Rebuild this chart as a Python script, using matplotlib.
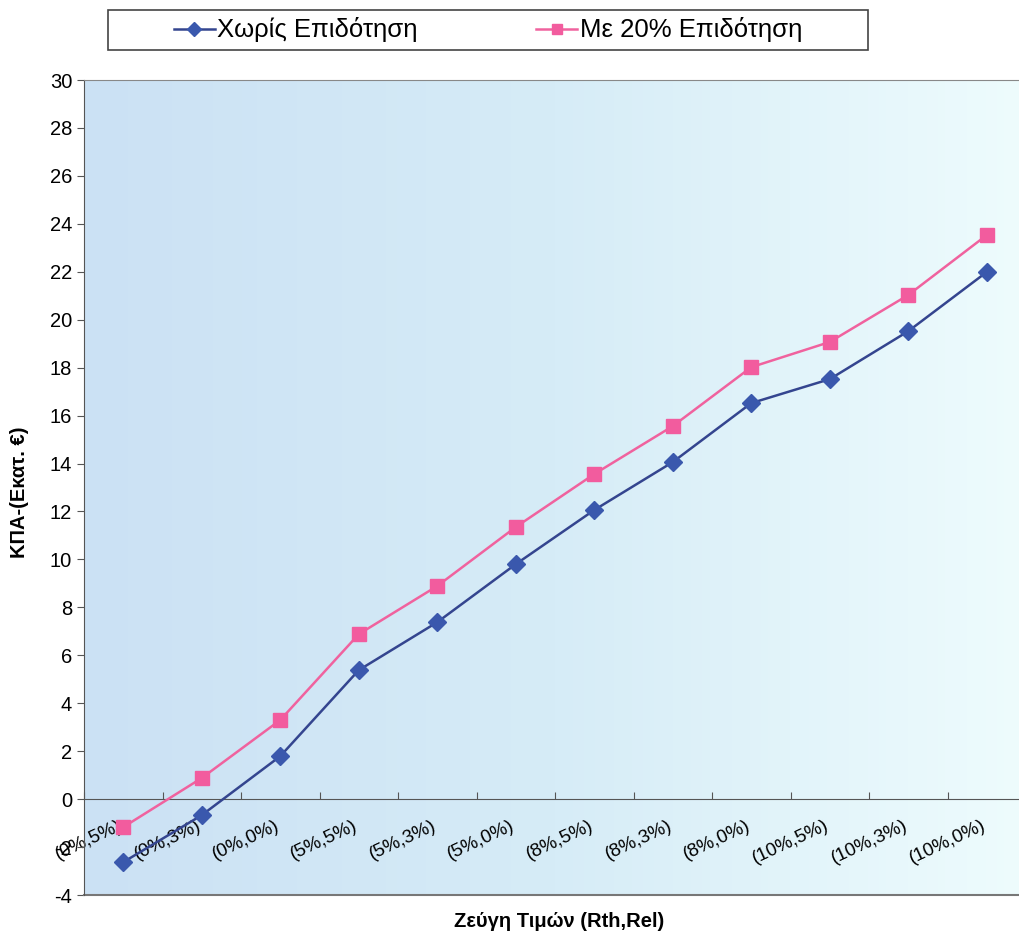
import numpy as np
import matplotlib
matplotlib.use("Agg")
import matplotlib.pyplot as plt
from matplotlib.patches import Rectangle
from matplotlib.colors import LinearSegmentedColormap

plt.rcParams['font.family'] = ['Liberation Sans', 'DejaVu Sans']
plt.rcParams['axes.unicode_minus'] = False

# pairs of (Rth, Rel) values
categories = ['(0%,5%)', '(0%,3%)', '(0%,0%)', '(5%,5%)', '(5%,3%)', '(5%,0%)',
              '(8%,5%)', '(8%,3%)', '(8%,0%)', '(10%,5%)', '(10%,3%)', '(10%,0%)']
# NPV in million euro
no_subsidy = [-2.63, -0.67, 1.79, 5.38, 7.38, 9.80, 12.06, 14.06, 16.52, 17.52, 19.52, 21.99]
subsidy_20 = [-1.17, 0.88, 3.30, 6.88, 8.89, 11.35, 13.56, 15.56, 18.02, 19.07, 21.03, 23.53]

W, H = 1019, 938
fig = plt.figure(figsize=(W / 100, H / 100), dpi=100)
ax = fig.add_axes([84 / W, (H - 895) / H, 942 / W, 815 / H])

# light blue background, darker on the left
cmap = LinearSegmentedColormap.from_list('bg', ['#cbe1f4', '#d6ecf7', '#eefcfd'])
grad = np.linspace(0, 1, 256).reshape(1, -1)
ax.imshow(grad, cmap=cmap, aspect='auto', extent=[0, 1, 0, 1],
          transform=ax.transAxes, zorder=0)

x = np.arange(len(categories))
ax.plot(x, no_subsidy, color='#34458f', lw=1.8, marker='D', ms=9,
        mfc='#3a58ad', mec='#3a58ad', label='Χωρίς Επιδότηση', zorder=3)
ax.plot(x, subsidy_20, color='#f0629e', lw=1.8, marker='s', ms=10.5,
        mfc='#f25c9e', mec='#f25c9e', label='Με 20% Επιδότηση', zorder=3)

ax.set_xlim(-0.5, len(categories) - 0.5)
ax.set_ylim(-4, 30)
ax.set_yticks(range(-4, 31, 2))
ax.tick_params(axis='y', direction='out', length=5, labelsize=14.5, color='#555555')

# x axis crosses at zero
ax.spines['bottom'].set_position(('data', 0))
ax.spines['bottom'].set_color('#555555')
ax.set_xticks(np.arange(-0.5, len(categories), 1))
ax.set_xticklabels([])
ax.tick_params(axis='x', which='major', direction='in', length=5, color='#555555')
ax.set_xticks(x - 0.07, categories, minor=True)
ax.tick_params(axis='x', which='minor', length=0, pad=13, labelsize=13.5)
for lab in ax.get_xticklabels(minor=True):
    lab.set_rotation(25)
    lab.set_ha('right')
    lab.set_va('top')
    lab.set_rotation_mode('anchor')

ax.spines['left'].set_color('#555555')
ax.spines['top'].set_color('#888888')
ax.spines['right'].set_visible(False)
ax.axhline(-4, color='#777777', lw=1.5, zorder=2, clip_on=False)

fig.text(20 / W, 1 - 492 / H, 'ΚΠΑ-(Εκατ. €)', rotation=90, ha='center', va='center',
         fontsize=14.5, fontweight='bold')
fig.text(559 / W, 1 - 921 / H, 'Ζεύγη Τιμών (Rth,Rel)', ha='center', va='center',
         fontsize=14.5, fontweight='bold')

# legend box at the top
fig.patches.append(Rectangle((108 / W, 1 - 50 / H), 760 / W, 40 / H, transform=fig.transFigure,
                             fill=False, edgecolor='#444444', lw=1.2))
leg = fig.legend(loc='center', bbox_to_anchor=(488 / W, 1 - 30 / H), ncol=2, frameon=False,
                 fontsize=18.5, handlelength=1.6, handletextpad=0.1, columnspacing=4.6)
for h in leg.legend_handles:
    h.set_markersize(7)

fig.savefig('out.png', dpi=100)
